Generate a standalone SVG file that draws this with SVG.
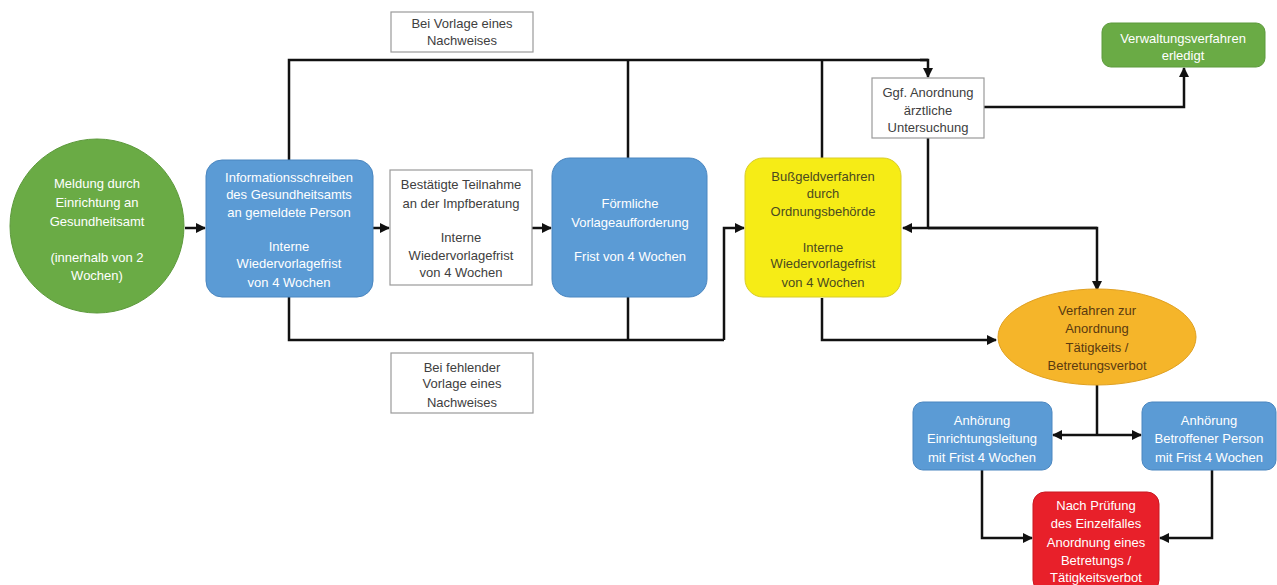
<svg xmlns="http://www.w3.org/2000/svg" width="1277" height="585" viewBox="0 0 1277 585">
<defs>
<marker id="ah" viewBox="0 0 10 10" refX="9" refY="5" markerWidth="4" markerHeight="4" orient="auto" markerUnits="strokeWidth">
<path d="M0,0 L10,5 L0,10 z" fill="#111"/>
</marker>
<style>
text{font-family:"Liberation Sans",Arial,sans-serif;font-size:13px;text-anchor:middle}
.w{fill:#ffffff}
.d{fill:#404040}
.dy{fill:#4a4a20}
.do{fill:#5a3a10}
.blue{fill:#5b9bd5;stroke:#4a86c0;stroke-width:1}
.white{fill:#ffffff;stroke:#9a9a9a;stroke-width:1.2}
.c{fill:none;stroke:#111;stroke-width:2.5}
.a{marker-end:url(#ah)}
</style>
</defs>
<rect width="1277" height="585" fill="#ffffff"/>

<g id="connectors">
<polyline class="c" points="289,160 289,60 928,60"/>
<polyline class="c a" points="920,60 928,60 928,77"/>
<line class="c" x1="628" y1="158" x2="628" y2="60"/>
<line class="c" x1="822" y1="158" x2="822" y2="60"/>
<polyline class="c" points="289,297 289,340 724,340"/>
<line class="c" x1="628" y1="297" x2="628" y2="340"/>
<polyline class="c a" points="724,340 724,228 744,228"/>
<polyline class="c a" points="822,298 822,340 996,340"/>
<line class="c" x1="928" y1="138" x2="928" y2="228"/>
<line class="c a" x1="1097" y1="228" x2="903" y2="228"/>
<polyline class="c a" points="928,228 1097,228 1097,290"/>
<polyline class="c a" points="984,107 1184,107 1184,68"/>
<line class="c" x1="1097" y1="385" x2="1097" y2="435"/>
<line class="c a" x1="1097" y1="435" x2="1053" y2="435"/>
<line class="c a" x1="1097" y1="435" x2="1141" y2="435"/>
<polyline class="c a" points="982,470 982,538 1032,538"/>
<polyline class="c a" points="1212,470 1212,538 1160,538"/>
<line class="c a" x1="185" y1="228" x2="205" y2="228"/>
<line class="c a" x1="372" y1="228" x2="389" y2="228"/>
<line class="c a" x1="532" y1="228" x2="551" y2="228"/>
</g>

<g id="meldung">
<circle cx="97" cy="226" r="87" fill="#6aab45" stroke="#5d9a3c" stroke-width="1"/>
<text class="w" x="97" y="188">Meldung durch</text>
<text class="w" x="97" y="207">Einrichtung an</text>
<text class="w" x="97" y="226">Gesundheitsamt</text>
<text class="w" x="97" y="262">(innerhalb von 2</text>
<text class="w" x="97" y="280">Wochen)</text>
</g>

<g id="info">
<rect class="blue" x="206" y="160" width="167" height="137" rx="16"/>
<text class="w" x="289" y="182">Informationsschreiben</text>
<text class="w" x="289" y="199">des Gesundheitsamts</text>
<text class="w" x="289" y="217">an gemeldete Person</text>
<text class="w" x="289" y="251">Interne</text>
<text class="w" x="289" y="268">Wiedervorlagefrist</text>
<text class="w" x="289" y="287">von 4 Wochen</text>
</g>

<g id="bestaetigt">
<rect class="white" x="390" y="170" width="142" height="115"/>
<text class="d" x="461" y="189">Bestätigte Teilnahme</text>
<text class="d" x="461" y="208">an der Impfberatung</text>
<text class="d" x="461" y="242">Interne</text>
<text class="d" x="461" y="260">Wiedervorlagefrist</text>
<text class="d" x="461" y="277">von 4 Wochen</text>
</g>

<g id="foermlich">
<rect class="blue" x="552" y="158" width="155" height="139" rx="18"/>
<text class="w" x="630" y="208">Förmliche</text>
<text class="w" x="630" y="227">Vorlageaufforderung</text>
<text class="w" x="630" y="261">Frist von 4 Wochen</text>
</g>

<g id="bussgeld">
<rect x="745" y="158" width="156" height="139" rx="18" fill="#f6ec16" stroke="#d8cc2a" stroke-width="1"/>
<text class="dy" x="823" y="181">Bußgeldverfahren</text>
<text class="dy" x="823" y="198">durch</text>
<text class="dy" x="823" y="216">Ordnungsbehörde</text>
<text class="dy" x="823" y="252">Interne</text>
<text class="dy" x="823" y="268">Wiedervorlagefrist</text>
<text class="dy" x="823" y="287">von 4 Wochen</text>
</g>

<g id="vorlage-label">
<rect class="white" x="391" y="12" width="142" height="40"/>
<text class="d" x="462" y="28">Bei Vorlage eines</text>
<text class="d" x="462" y="45">Nachweises</text>
</g>

<g id="fehlend-label">
<rect class="white" x="391" y="353" width="142" height="60"/>
<text class="d" x="462" y="372">Bei fehlender</text>
<text class="d" x="462" y="388">Vorlage eines</text>
<text class="d" x="462" y="407">Nachweises</text>
</g>

<g id="ggf">
<rect class="white" x="872" y="78" width="112" height="60"/>
<text class="d" x="928" y="97">Ggf. Anordnung</text>
<text class="d" x="928" y="115">ärztliche</text>
<text class="d" x="928" y="132">Untersuchung</text>
</g>

<g id="erledigt">
<rect x="1102" y="23" width="163" height="44" rx="9" fill="#6aab45" stroke="#5d9a3c" stroke-width="1"/>
<text class="w" x="1183" y="43">Verwaltungsverfahren</text>
<text class="w" x="1183" y="60">erledigt</text>
</g>

<g id="verfahren">
<ellipse cx="1097" cy="337" rx="99" ry="48" fill="#f5b52a" stroke="#e0a020" stroke-width="1"/>
<text class="do" x="1097" y="315">Verfahren zur</text>
<text class="do" x="1097" y="333">Anordnung</text>
<text class="do" x="1097" y="352">Tätigkeits /</text>
<text class="do" x="1097" y="370">Betretungsverbot</text>
</g>

<g id="anhoerung-leitung">
<rect class="blue" x="913" y="402" width="139" height="68" rx="10"/>
<text class="w" x="982" y="425">Anhörung</text>
<text class="w" x="982" y="443">Einrichtungsleitung</text>
<text class="w" x="982" y="462">mit Frist 4 Wochen</text>
</g>

<g id="anhoerung-person">
<rect class="blue" x="1142" y="402" width="134" height="68" rx="10"/>
<text class="w" x="1209" y="425">Anhörung</text>
<text class="w" x="1209" y="443">Betroffener Person</text>
<text class="w" x="1209" y="462">mit Frist 4 Wochen</text>
</g>

<g id="anordnung">
<rect x="1033" y="492" width="126" height="100" rx="12" fill="#e8202a" stroke="#c81820" stroke-width="1"/>
<text class="w" x="1096" y="510">Nach Prüfung</text>
<text class="w" x="1096" y="528">des Einzelfalles</text>
<text class="w" x="1096" y="547">Anordnung eines</text>
<text class="w" x="1096" y="565">Betretungs /</text>
<text class="w" x="1096" y="582">Tätigkeitsverbot</text>
</g>
</svg>
